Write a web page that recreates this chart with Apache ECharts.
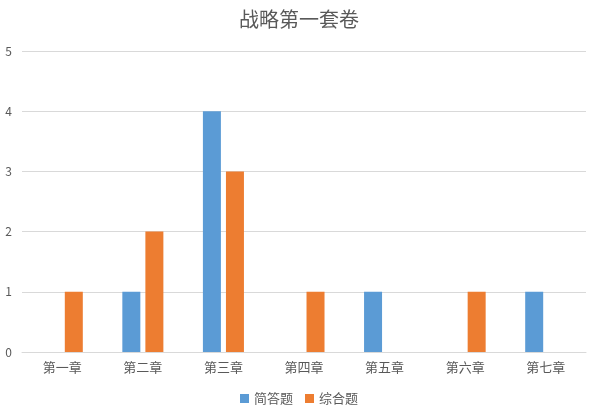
<!DOCTYPE html>
<html>
<head>
<meta charset="utf-8">
<script src="https://cdn.jsdelivr.net/npm/echarts@6/dist/echarts.min.js"></script>
<style>
  html, body { margin: 0; padding: 0; background: #fff; }
  #chart { width: 598px; height: 419px; }
</style>
</head>
<body>
<div id="chart"></div>
<script>
// Chapters on the x axis
const chapters = ['第一章', '第二章', '第三章', '第四章', '第五章', '第六章', '第七章'];
// Question counts per chapter
const shortAnswer = [0, 1, 4, 0, 1, 0, 1];   // 简答题
const comprehensive = [1, 2, 3, 1, 0, 1, 0]; // 综合题

const textColor = '#595959';
const font = '"Microsoft YaHei", "Noto Sans CJK SC", sans-serif';

const chart = echarts.init(document.getElementById('chart'), null, { renderer: 'canvas' });
chart.setOption({
  backgroundColor: '#ffffff',
  animation: false,
  title: {
    text: '战略第一套卷',
    left: 'center',
    top: 4,
    textStyle: { color: textColor, fontSize: 20, fontWeight: 'normal', fontFamily: font }
  },
  legend: {
    bottom: 9,
    left: 'center',
    itemWidth: 9,
    itemHeight: 9,
    itemGap: 12,
    icon: 'rect',
    textStyle: { color: textColor, fontSize: 13, fontFamily: font },
    data: ['简答题', '综合题']
  },
  grid: {
    left: 22, right: 12, top: 51, bottom: 67,
    containLabel: false,
    outerBoundsMode: 'none'
  },
  xAxis: {
    type: 'category',
    data: chapters,
    axisLine: { lineStyle: { color: '#d9d9d9', width: 1 } },
    axisTick: { show: false },
    axisLabel: { color: textColor, fontSize: 13, fontFamily: font, margin: 9 }
  },
  yAxis: {
    type: 'value',
    min: 0,
    max: 5,
    interval: 1,
    axisLine: { show: false },
    axisTick: { show: false },
    splitLine: { lineStyle: { color: '#d9d9d9', width: 1 } },
    axisLabel: { color: textColor, fontSize: 12, fontFamily: font, margin: 10 }
  },
  series: [
    {
      name: '简答题',
      type: 'bar',
      data: shortAnswer,
      barWidth: 18,
      barGap: '28%',
      itemStyle: { color: '#5B9BD5' }
    },
    {
      name: '综合题',
      type: 'bar',
      data: comprehensive,
      barWidth: 18,
      barGap: '28%',
      itemStyle: { color: '#ED7D31' }
    }
  ]
});
</script>
</body>
</html>
